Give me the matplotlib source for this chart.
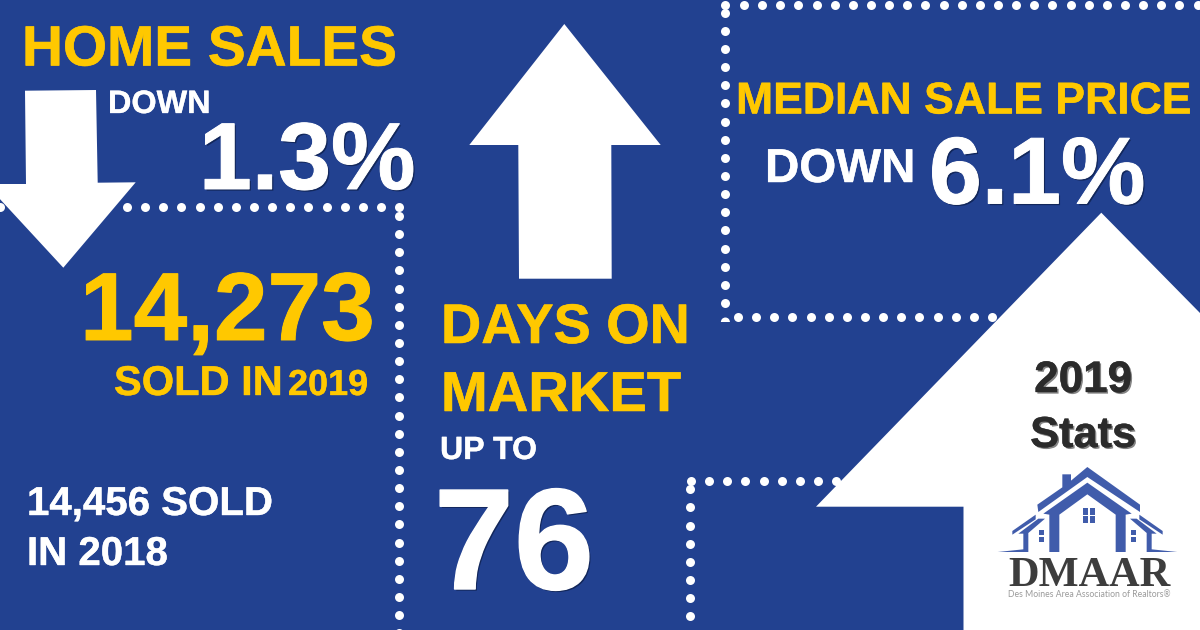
import matplotlib
matplotlib.use("Agg")
import matplotlib.pyplot as plt
import matplotlib.patheffects as pe
import numpy as np
from matplotlib.patches import Polygon, Rectangle, Wedge

BLUE = "#224190"
YELLOW = "#ffc800"
WHITE = "#ffffff"
LOGO_BLUE = "#405cab"
DARK = "#2b2b2b"

# the figures on the picture
home_sales_change = "1.3%"
sold_2019 = "14,273"
sold_2018 = "14,456 SOLD"
days_on_market = "76"
median_price_change = "6.1%"

plt.rcParams["font.family"] = ["Liberation Sans", "DejaVu Sans"]

fig = plt.figure(figsize=(12, 6.3), dpi=100)
ax = fig.add_axes([0, 0, 1, 1])
ax.set_xlim(0, 1200)
ax.set_ylim(630, 0)
ax.axis("off")
fig.patch.set_facecolor(BLUE)
ax.add_patch(Rectangle((0, 0), 1200, 630, fc=BLUE, ec="none", zorder=0))


def px(cap_height):
    # font size in points from the cap height in pixels
    return cap_height / 0.716 * 72 / 100


def label(x, y, s, cap, color=YELLOW, shadow=False):
    t = ax.text(x, y, s, fontsize=px(cap), color=color, ha="left", va="baseline", fontweight="bold", zorder=5)
    # the source lettering is a bit heavier than the font
    effects = [pe.Stroke(linewidth=cap * 0.01, foreground=color), pe.Normal()]
    if shadow:
        effects.insert(0, pe.SimplePatchShadow(offset=(1.2, -1.2), shadow_rgbFace="#0c1c45", alpha=0.7))
    t.set_path_effects(effects)
    return t


def dots(xs, ys, z=1):
    ax.scatter(xs, ys, s=42, c=WHITE, linewidths=0, zorder=z)


STEP = 18.14

# dotted frames
dots(127 + STEP * np.arange(15), np.full(15, 207.4))
dots([0, 399.4], [207.4, 207.4])
dots(np.full(24, 399.4), 216 + STEP * np.arange(24))
dots(744 + STEP * np.arange(26), np.full(26, 4.6))
dots([725.4], [4.6])
dots(np.full(17, 725.4), 12.7 + STEP * np.arange(17))
ax.add_patch(Wedge((725.4, 322), 4.5, 180, 360, fc=WHITE, ec="none", zorder=1))
dots(738 + STEP * np.arange(15), np.full(15, 317.3))
dots(691 + STEP * np.arange(9), np.full(9, 480.7))
dots(np.full(8, 690.4), 489.3 + STEP * np.arange(8))

# arrows
ax.add_patch(Polygon([(25, 90.7), (96, 90), (97.7, 182.7), (135.7, 182.3), (63.3, 267.7), (-14, 184), (26, 184)],
                     fc=WHITE, ec="none", zorder=2))
ax.add_patch(Polygon([(564.3, 24), (660.7, 145), (611.3, 145), (611.7, 278.7), (519, 278.7), (518.3, 145), (469.3, 145)],
                     fc=WHITE, ec="none", zorder=2))
ax.add_patch(Polygon([(1101.3, 212.7), (1200, 313), (1200, 630), (963.5, 630), (963.5, 506.7), (816, 506.7)],
                     fc=WHITE, ec="none", zorder=2))

# left panel
label(22, 65.5, "HOME SALES", 40.6)
label(108, 113, "DOWN", 23.2, WHITE)
label(199, 189, home_sales_change, 68, WHITE, shadow=True)
label(80, 340, sold_2019, 69)
label(114, 395, "SOLD IN", 29.8)
label(288, 395, "2019", 25.8)
label(27, 515, sold_2018, 28.8, WHITE)
label(27, 565, "IN 2018", 28.8, WHITE)

# middle panel
label(441, 343, "DAYS ON", 39.9)
label(441, 411, "MARKET", 40.2)
label(440, 459, "UP TO", 23, WHITE)
label(434, 589, days_on_market, 103, WHITE, shadow=True)

# right panel
label(736, 113.5, "MEDIAN SALE PRICE", 31.9)
label(765, 182, "DOWN", 34, WHITE)
label(929, 203.5, median_price_change, 68, WHITE, shadow=True)

# logo text
for y, s, cap in [(392, "2019", 31.5), (447, "Stats", 31)]:
    t = ax.text(1083, y, s, fontsize=px(cap), color=DARK, ha="center", va="baseline", fontweight="bold", zorder=5)
    t.set_path_effects([pe.SimplePatchShadow(offset=(1.2, -1.2), shadow_rgbFace="#777777", alpha=0.9),
                        pe.Stroke(linewidth=0.3, foreground=DARK), pe.Normal()])


def logo_xy(pts, mirror=False):
    # shape points measured on the 3x crop of the logo
    pts = np.array(pts, dtype=float)
    if mirror:
        pts[:, 0] = 555 - pts[:, 0]
    return np.c_[995 + pts[:, 0] / 3, 462 + pts[:, 1] / 3]


roof = [(127, 128), (202, 76), (202, 37), (228, 37), (228, 56), (277, 15), (435, 128), (435, 150),
        (277, 45), (130, 150)]
house = [(145, 155), (277, 62), (410, 155), (392, 158), (392, 270), (362, 270), (362, 158), (277, 97),
         (193, 158), (193, 270), (163, 270), (163, 158)]
wing_top = [(52, 207), (122, 158), (122, 172), (52, 218)]
wing_low = [(8, 270), (85, 262), (85, 215), (70, 215), (130, 170), (150, 170), (100, 213), (100, 270)]
for shape in (roof, house):
    ax.add_patch(Polygon(logo_xy(shape), fc=LOGO_BLUE, ec="none", zorder=4))
for shape in (wing_top, wing_low):
    for side in (False, True):
        ax.add_patch(Polygon(logo_xy(shape, side), fc=LOGO_BLUE, ec="none", zorder=4))
for wx, wy, ww, wh in [(263, 138, 16, 20), (285, 138, 15, 20), (263, 162, 16, 20), (285, 162, 15, 20),
                       (133, 205, 14, 15), (133, 224, 14, 16), (407, 205, 15, 15), (407, 224, 15, 16)]:
    ax.add_patch(Rectangle((995 + wx / 3, 462 + wy / 3), ww / 3, wh / 3, fc=LOGO_BLUE, ec="none", zorder=4))

ax.text(1089, 586, "DMAAR", fontsize=30.5, family="Liberation Serif", fontweight="bold", color="#3d3d3d",
        ha="center", va="baseline", zorder=5)
ax.text(1089.5, 597, "Des Moines Area Association of Realtors\u00ae", fontsize=6.2, family="Lato", color="#9a9a9a",
        ha="center", va="baseline", zorder=5)

fig.savefig("out.png", dpi=100, facecolor=BLUE)
